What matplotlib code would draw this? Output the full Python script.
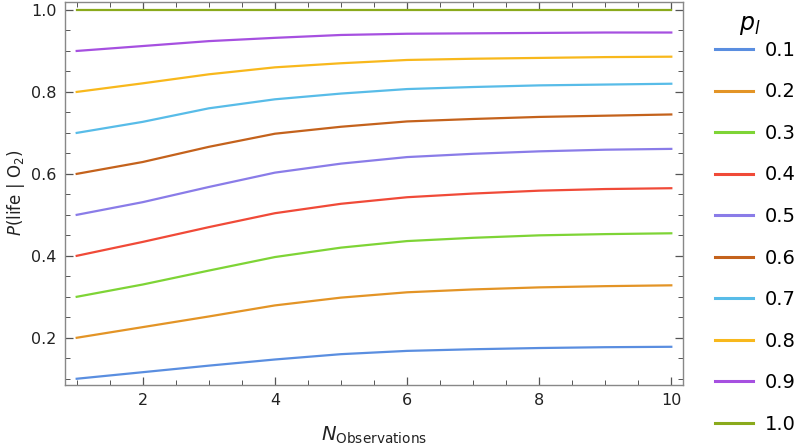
"""Posterior probability of life given O2 detections, for several priors p_l."""

import matplotlib
matplotlib.use('Agg')
import matplotlib.pyplot as plt
from matplotlib.ticker import MultipleLocator

# Number of observations on the x axis.
n_obs = [1, 2, 3, 4, 5, 6, 7, 8, 9, 10]

# Prior values (legend labels) and the curves.
priors = ['0.1', '0.2', '0.3', '0.4', '0.5', '0.6', '0.7', '0.8', '0.9', '1.0']
p_01 = [0.100, 0.116, 0.132, 0.147, 0.160, 0.168, 0.172, 0.175, 0.177, 0.178]
p_02 = [0.200, 0.226, 0.252, 0.279, 0.298, 0.311, 0.318, 0.323, 0.326, 0.328]
p_03 = [0.300, 0.330, 0.364, 0.397, 0.420, 0.436, 0.444, 0.450, 0.453, 0.455]
p_04 = [0.400, 0.434, 0.470, 0.504, 0.527, 0.543, 0.552, 0.559, 0.563, 0.565]
p_05 = [0.500, 0.531, 0.568, 0.603, 0.625, 0.641, 0.649, 0.655, 0.659, 0.661]
p_06 = [0.600, 0.629, 0.666, 0.698, 0.715, 0.728, 0.734, 0.739, 0.742, 0.745]
p_07 = [0.700, 0.727, 0.760, 0.782, 0.796, 0.807, 0.812, 0.816, 0.818, 0.820]
p_08 = [0.800, 0.821, 0.843, 0.860, 0.870, 0.878, 0.881, 0.883, 0.885, 0.886]
p_09 = [0.900, 0.912, 0.924, 0.932, 0.939, 0.942, 0.943, 0.944, 0.945, 0.945]
p_10 = [1.000, 1.000, 1.000, 1.000, 1.000, 1.000, 1.000, 1.000, 1.000, 1.000]
curves = [p_01, p_02, p_03, p_04, p_05, p_06, p_07, p_08, p_09, p_10]

colors = ['#5a8ee0', '#e39426', '#7ed436', '#f04a38', '#8a7ce8',
          '#c4621c', '#58bce8', '#f8b81c', '#a650e0', '#8aaa1c']

fig = plt.figure(figsize=(8, 4.46), dpi=100)
ax = fig.add_axes([0.081, 0.137, 0.773, 0.859])

for vals, lab, col in zip(curves, priors, colors):
    ax.plot(n_obs, vals, color=col, lw=1.6, label=lab)

ax.set_xlim(0.82, 10.18)
ax.set_ylim(0.085, 1.02)

# Mathematica style frame: ticks inside on every side.
ax.xaxis.set_major_locator(MultipleLocator(2))
ax.xaxis.set_minor_locator(MultipleLocator(0.5))
ax.yaxis.set_major_locator(MultipleLocator(0.2))
ax.yaxis.set_minor_locator(MultipleLocator(0.05))
ax.tick_params(which='both', direction='in', top=True, right=True,
               color='#555555', labelsize=11.5, labelcolor='#222222', pad=6)
ax.tick_params(which='major', length=6, width=0.9)
ax.tick_params(which='minor', length=3.5, width=0.7)
for sp in ax.spines.values():
    sp.set_color('#888888')
    sp.set_linewidth(1.0)

ax.set_ylabel(r'$P$(life | O$_2$)', fontsize=12, color='#222222', labelpad=3)
ax.set_xlabel(r'$N_{\mathrm{Observations}}$', fontsize=14, color='#222222', labelpad=12)

# legend title drawn separately so it can sit close to the entries
fig.text(0.9375, 0.944, r'$p_l$', fontsize=17, ha='center', va='center')
leg = fig.legend(loc='upper left', bbox_to_anchor=(0.884, 0.926), frameon=False,
                 borderaxespad=0, fontsize=14, handlelength=1.95,
                 handletextpad=0.62, labelspacing=1.16)
for line in leg.get_lines():
    line.set_linewidth(2.2)

fig.savefig('out.png', dpi=100)
